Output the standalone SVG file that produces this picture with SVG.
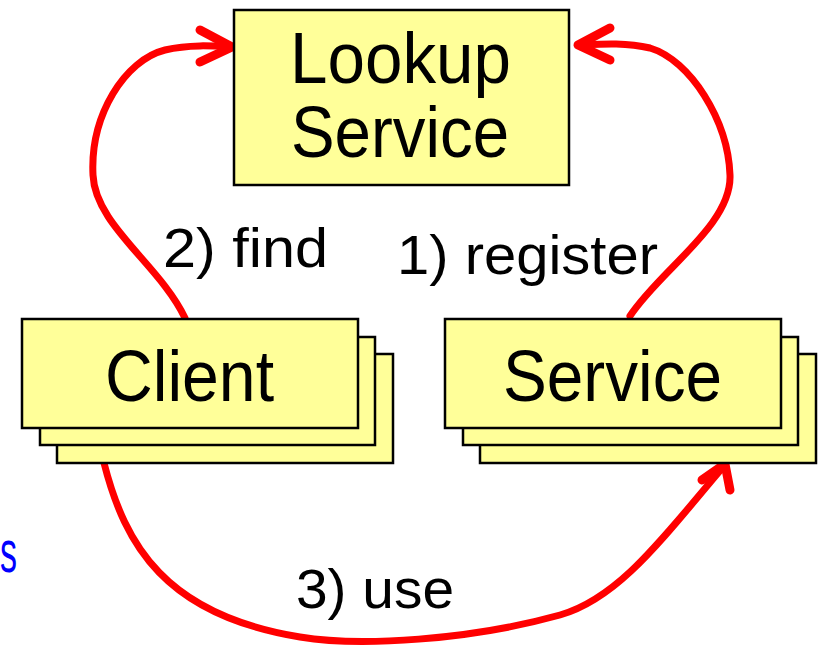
<svg xmlns="http://www.w3.org/2000/svg" width="818" height="648" viewBox="0 0 818 648">
<style>
.box{fill:#FFFF99;stroke:#000;stroke-width:2.5}
.t{font-family:"Liberation Sans",Arial,sans-serif;fill:#000}
.big{font-size:72px}
.lbl{font-size:56px}
.c{fill:none;stroke:#FF0000;stroke-width:7;stroke-linecap:round;stroke-linejoin:round}
.h{fill:none;stroke:#FF0000;stroke-width:9;stroke-linecap:round;stroke-linejoin:round}
</style>
<rect width="818" height="648" fill="#fff"/>
<g id="connectors">
<path class="c" d="M185,318 C160,265 95,225 93,175 C90,115 125,60 165,50 C190,44 215,46 230,47"/>
<polyline class="h" points="200,30 232,47 200,62"/>
<path class="c" d="M630,316 C660,270 732,225 730,175 C728,120 690,60 650,48 C625,42 600,44 580,45"/>
<polyline class="h" points="610,28 578,45 610,60"/>
<path class="c" d="M104,463 C125,545 165,615 300,637 C360,647 470,640 560,615 C620,598 665,535 724,466"/>
<polyline class="h" points="702,480 725,464 730,490"/>
</g>
<g id="lookup">
<rect class="box" x="234" y="10" width="335" height="175"/>
<text class="t big" x="290" y="83" textLength="221" lengthAdjust="spacingAndGlyphs">Lookup</text>
<text class="t big" x="291" y="157" textLength="218" lengthAdjust="spacingAndGlyphs">Service</text>
</g>
<g id="client">
<rect class="box" x="57" y="354" width="336" height="109"/>
<rect class="box" x="40" y="337" width="335" height="108"/>
<rect class="box" x="22" y="319" width="336" height="109"/>
<text class="t big" x="105" y="401" textLength="169" lengthAdjust="spacingAndGlyphs">Client</text>
</g>
<g id="service">
<rect class="box" x="480" y="354" width="336" height="109"/>
<rect class="box" x="463" y="337" width="335" height="108"/>
<rect class="box" x="445" y="319" width="336" height="109"/>
<text class="t big" x="503" y="401" textLength="219" lengthAdjust="spacingAndGlyphs">Service</text>
</g>
<g id="labels">
<text class="t lbl" x="163" y="267" textLength="165" lengthAdjust="spacingAndGlyphs">2) find</text>
<text class="t lbl" x="397" y="274" textLength="261" lengthAdjust="spacingAndGlyphs">1) register</text>
<text class="t lbl" x="296" y="608" textLength="158" lengthAdjust="spacingAndGlyphs">3) use</text>
<text x="0" y="572" font-family="Liberation Sans, Arial, sans-serif" font-size="60" fill="#0000FF" textLength="17" lengthAdjust="spacingAndGlyphs">s</text>
</g>
</svg>
